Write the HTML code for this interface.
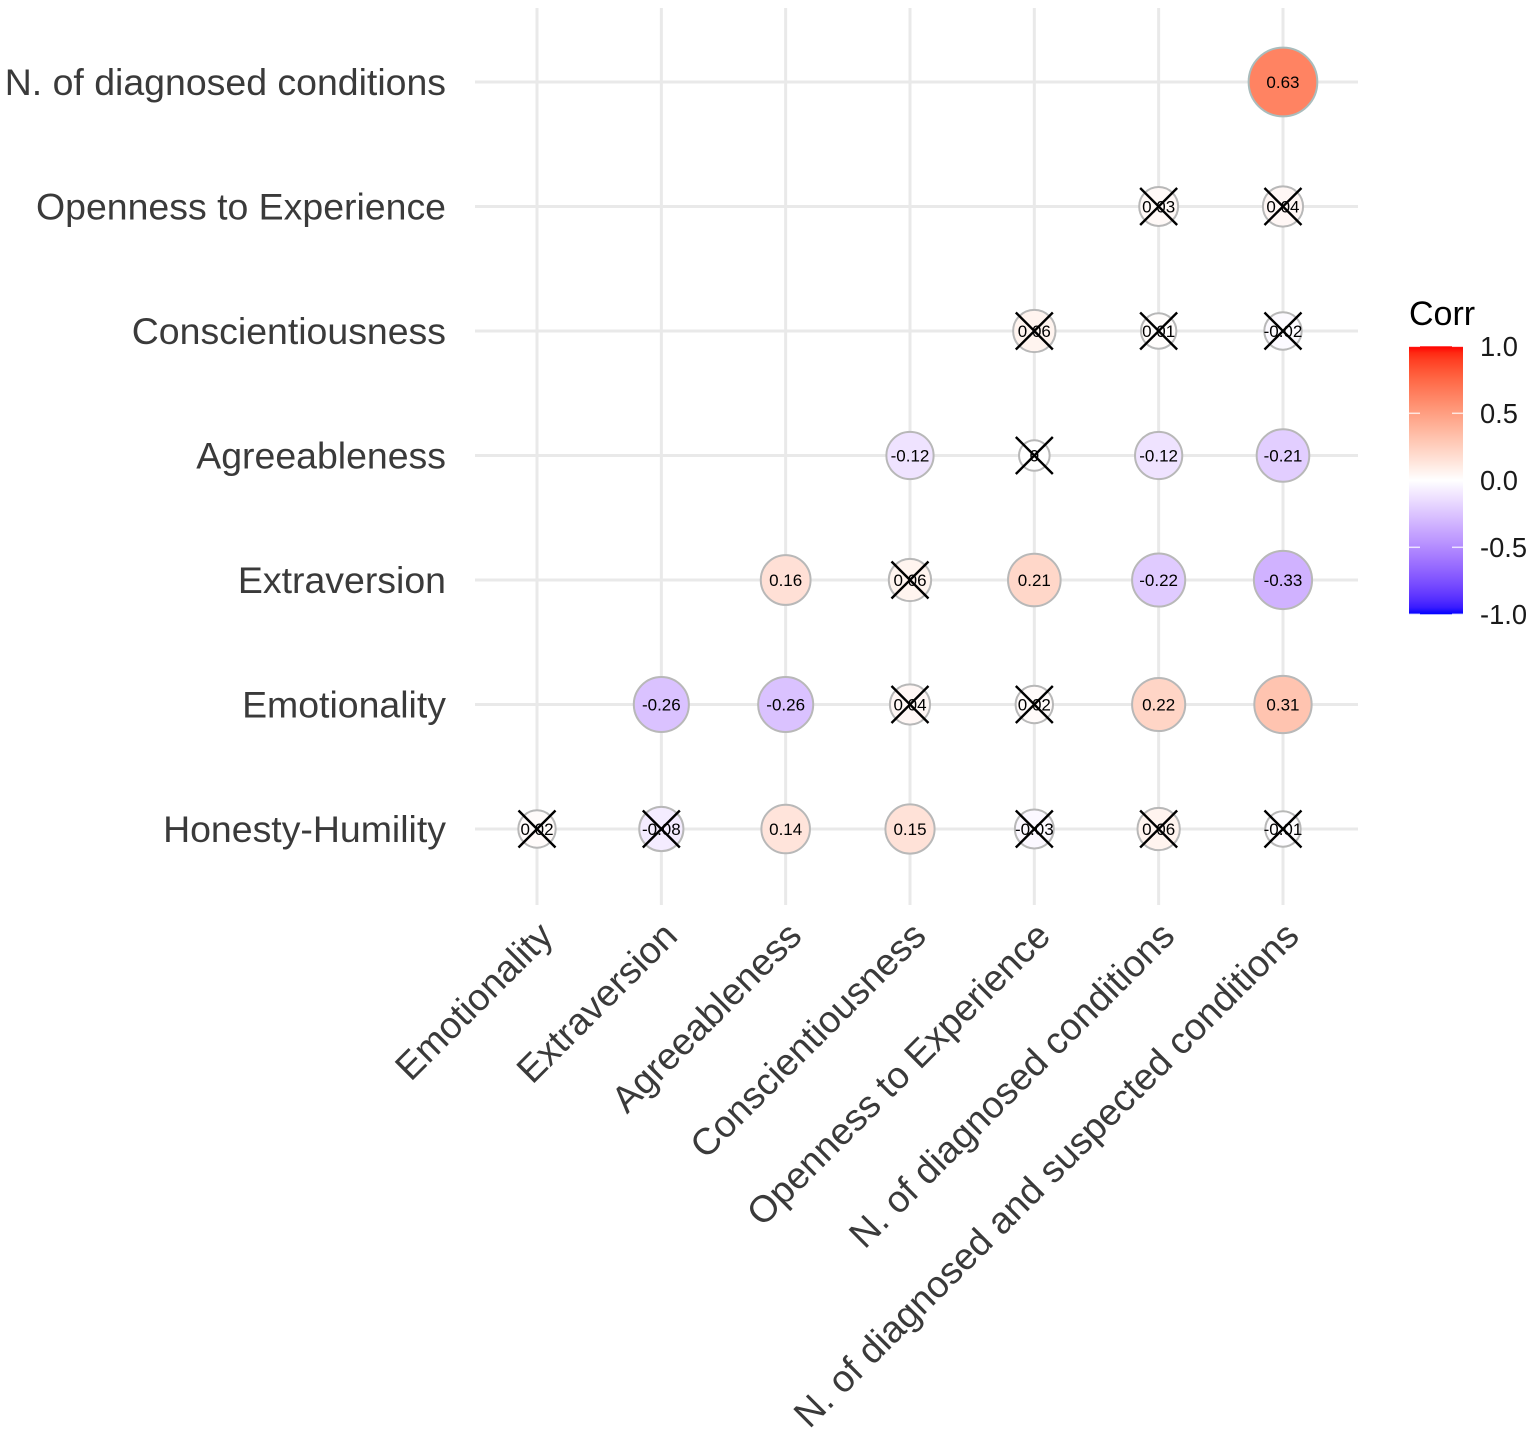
<!DOCTYPE html>
<html lang="en">
<head>
<meta charset="utf-8">
<title>Correlation matrix</title>
<style>
html,body{margin:0;padding:0;background:#fff;}
svg{display:block;font-family:"Liberation Sans",Arial,sans-serif;}
</style>
</head>
<body>
<svg id="chart" width="1535" height="1437" viewBox="0 0 1535 1437" xmlns="http://www.w3.org/2000/svg">
<defs><linearGradient id="legend-gradient" x1="0" y1="0" x2="0" y2="1"></linearGradient></defs>
<rect width="1535" height="1437" fill="#fff"/>
<g id="grid"></g>
<g id="marks"></g>
<g id="yaxis"></g>
<g id="xaxis"></g>
<g id="legend"></g>
</svg>
<script>
const xCategories = ["Emotionality","Extraversion","Agreeableness","Conscientiousness","Openness to Experience","N. of diagnosed conditions","N. of diagnosed and suspected conditions"];
const yCategories = ["Honesty-Humility","Emotionality","Extraversion","Agreeableness","Conscientiousness","Openness to Experience","N. of diagnosed conditions"];
// rows follow yCategories, columns follow xCategories; null = empty cell
const corrValues = [
  [0.02,-0.08,0.14,0.15,-0.03,0.06,-0.01],
  [null,-0.26,-0.26,0.04,0.02,0.22,0.31],
  [null,null,0.16,0.06,0.21,-0.22,-0.33],
  [null,null,null,-0.12,0,-0.12,-0.21],
  [null,null,null,null,0.06,0.01,-0.02],
  [null,null,null,null,null,0.03,0.04],
  [null,null,null,null,null,null,0.63]
];
// 1 = crossed out as non-significant
const crossedOut = [
  [1,1,0,0,1,1,1],
  [0,0,0,1,1,0,0],
  [0,0,0,1,0,0,0],
  [0,0,0,0,1,0,0],
  [0,0,0,0,1,1,1],
  [0,0,0,0,0,1,1],
  [0,0,0,0,0,0,0]
];
const legendTicks = [1,0.5,0,-0.5,-1];
const legendTickLabels = ["1.0","0.5","0.0","-0.5","-1.0"];

const NS = "http://www.w3.org/2000/svg";
function mk(tag, attrs, parent, text){
  const el = document.createElementNS(NS, tag);
  for (const k in attrs) el.setAttribute(k, attrs[k]);
  if (text !== undefined) el.textContent = text;
  parent.appendChild(el);
  return el;
}
const xScale = i => 537 + i * 124.33;
const yScale = i => 829 - i * 124.5;
const rScale = v => 15.3 + 24 * Math.sqrt(Math.abs(v));
const legendY = v => 480.3 - v * 134;

// Lab interpolation, as in ggplot2 scale_fill_gradient2
function lab2rgb(L,a,b){
  const fy=(L+16)/116, fx=fy+a/500, fz=fy-b/200;
  const g=t=>t>6/29?t*t*t:3*(6/29)*(6/29)*(t-4/29);
  const X=0.95047*g(fx),Y=g(fy),Z=1.08883*g(fz);
  const lin=[3.2406*X-1.5372*Y-0.4986*Z,-0.9689*X+1.8758*Y+0.0415*Z,0.0557*X-0.2040*Y+1.0570*Z];
  const out=lin.map(c=>{c=Math.max(0,Math.min(1,c));return Math.round(255*(c<=0.0031308?12.92*c:1.055*Math.pow(c,1/2.4)-0.055));});
  return "rgb("+out.join(",")+")";
}
function fillFor(v){
  const t=Math.abs(v);
  const end=v>=0?[53.24,80.09,67.2]:[32.3,79.19,-107.86];
  return lab2rgb(100+(end[0]-100)*t,end[1]*t,end[2]*t);
}

const grid=document.getElementById("grid");
xCategories.forEach((c,i)=>{
  const l=mk("line",{x1:xScale(i),x2:xScale(i),y1:8,y2:905,stroke:"#e9e9e9","stroke-width":3},grid);
  
  
});
yCategories.forEach((c,i)=>{
  const l=mk("line",{x1:475,x2:1358,y1:yScale(i),y2:yScale(i),stroke:"#e9e9e9","stroke-width":3},grid);
  
  
});

const marks=document.getElementById("marks");
corrValues.forEach((row,r)=>{
  row.forEach((v,c)=>{
    if(v===null) return;
    const cx=xScale(c),cy=yScale(r);
    const circle=mk("circle",{cx:cx,cy:cy,r:rScale(v),fill:fillFor(v),stroke:r===6?"#a9bcbc":"#b8b8b8","stroke-width":2},marks);
    
    
    const label=mk("text",{x:cx,y:cy+6,"text-anchor":"middle","font-size":17,fill:"#000"},marks,String(v));
    
    
    if(crossedOut[r][c]){
      const s=18.5;
      const cross=mk("path",{d:`M${cx-s} ${cy-s}L${cx+s} ${cy+s}M${cx-s} ${cy+s}L${cx+s} ${cy-s}`,stroke:"#000","stroke-width":2.4,fill:"none"},marks);
      
      
    }
  });
});

const yaxis=document.getElementById("yaxis");
yCategories.forEach((c,i)=>{
  const t=mk("text",{x:446,y:yScale(i)+13,"text-anchor":"end","font-size":37.45,fill:"#3a3a3a"},yaxis,c);
  
  
});
const xaxis=document.getElementById("xaxis");
xCategories.forEach((c,i)=>{
  const px=xScale(i)+18,py=938;
  const t=mk("text",{x:px,y:py,"text-anchor":"end","font-size":37.45,fill:"#3a3a3a",transform:`rotate(-45 ${px} ${py})`},xaxis,c);
  
  
});

const grad=document.getElementById("legend-gradient");
for(let i=0;i<=40;i++){
  mk("stop",{offset:(i/40),"stop-color":fillFor(1-i/20)},grad);
}
const legend=document.getElementById("legend");
const title=mk("text",{x:1409,y:325,"font-size":34,fill:"#000"},legend,"Corr");


const bar=mk("rect",{x:1409,y:legendY(1),width:54,height:legendY(-1)-legendY(1),fill:"url(#legend-gradient)"},legend);


legendTicks.forEach((v,i)=>{
  const y=legendY(v);
  const a=mk("line",{x1:1409,x2:1420,y1:y,y2:y,stroke:"#fff","stroke-opacity":0.75,"stroke-width":1.5},legend);
  
  
  const b=mk("line",{x1:1452,x2:1463,y1:y,y2:y,stroke:"#fff","stroke-opacity":0.75,"stroke-width":1.5},legend);
  
  
  const t=mk("text",{x:1480,y:y+9.5,"font-size":27.3,fill:"#1a1a1a"},legend,legendTickLabels[i]);
  
  
});
</script>
</body>
</html>
